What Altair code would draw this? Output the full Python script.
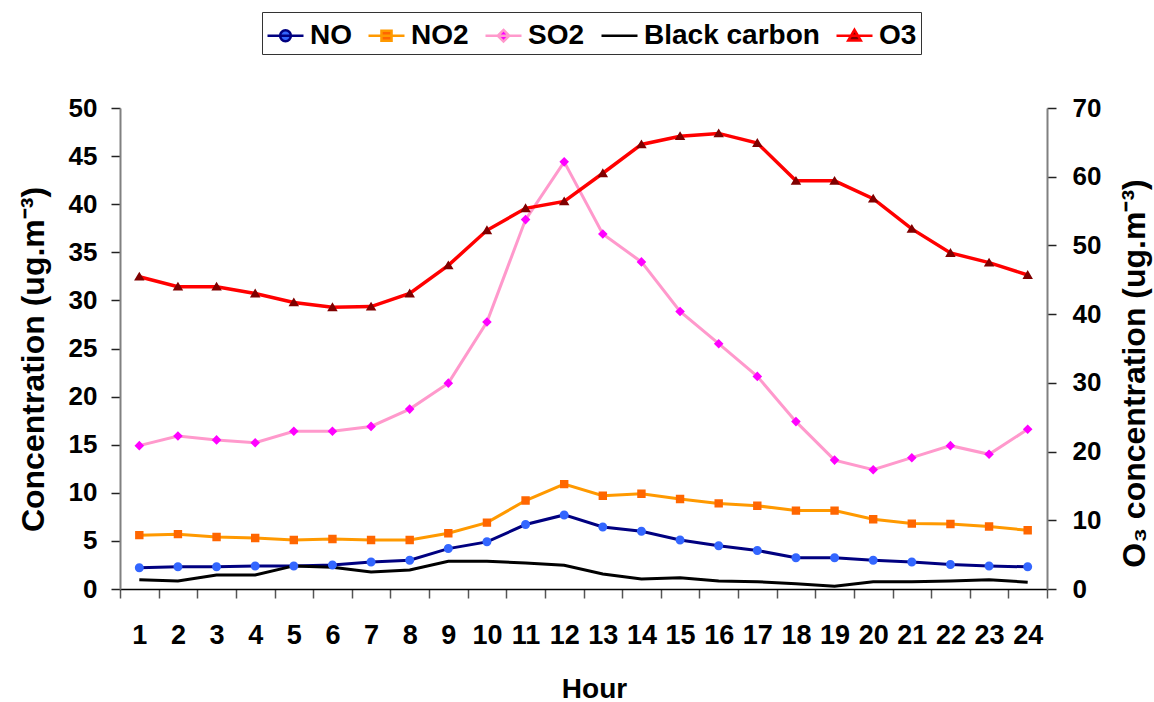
import altair as alt
import pandas as pd

# Hour of day (1..24)
hours = list(range(1, 25))

# Hourly mean concentrations (ug m-3)
no = [2.2, 2.3, 2.3, 2.4, 2.4, 2.5, 2.8, 3.0, 4.2, 4.9, 6.7, 7.7,
      6.45, 6.0, 5.1, 4.5, 4.0, 3.25, 3.25, 3.0, 2.8, 2.55, 2.4, 2.3]
no2 = [5.6, 5.7, 5.4, 5.3, 5.1, 5.2, 5.1, 5.1, 5.8, 6.9, 9.2, 10.9,
       9.7, 9.9, 9.35, 8.9, 8.65, 8.15, 8.15, 7.25, 6.8, 6.75, 6.5, 6.1]
so2 = [14.9, 15.9, 15.5, 15.2, 16.4, 16.4, 16.9, 18.7, 21.4, 27.75, 38.4, 44.4,
       36.9, 34.0, 28.85, 25.5, 22.1, 17.4, 13.4, 12.4, 13.65, 14.9, 14.0, 16.6]
black_carbon = [0.97, 0.83, 1.46, 1.46, 2.4, 2.25, 1.77, 1.98, 2.88, 2.88, 2.7, 2.46,
                1.56, 1.04, 1.18, 0.83, 0.76, 0.55, 0.28, 0.76, 0.76, 0.83, 0.97, 0.7]
o3 = [45.45, 44.0, 44.0, 43.0, 41.7, 41.0, 41.1, 43.0, 47.1, 52.2, 55.4, 56.4,
      60.5, 64.7, 65.9, 66.3, 64.9, 59.4, 59.4, 56.8, 52.4, 48.9, 47.5, 45.7]

series_names = ["NO", "NO2", "SO2", "Black carbon", "O3"]
series_values = [no, no2, so2, black_carbon, o3]

line_colors = ["#000080", "#FF9900", "#FF99CC", "#000000", "#FF0000"]
marker_colors = ["#3366FF", "#FF6600", "#FF00FF", "transparent", "#800000"]

# symbol paths in unit coordinates: a short line (visible only where stroked,
# i.e. in the legend) followed by the filled marker outline
seg = "M-1,0H1"
circle = seg + "M0.3,0A0.3,0.3,0,1,1,-0.3,0A0.3,0.3,0,1,1,0.3,0Z"
square = seg + "M-0.28,-0.28H0.28V0.28H-0.28Z"
diamond = seg + "M0,-0.32L0.32,0L0,0.32L-0.32,0Z"
triangle = seg + "M0,-0.33L0.35,0.26L-0.35,0.26Z"
marker_paths = [circle, square, diamond, seg, triangle]

left_ticks = [0, 5, 10, 15, 20, 25, 30, 35, 40, 45, 50]
right_ticks = [0, 10, 20, 30, 40, 50, 60, 70]

rows = []
for name, vals in zip(series_names, series_values):
    for h, v in zip(hours, vals):
        rows.append({"hour": h, "value": v, "series": name})
df = pd.DataFrame(rows)

FONT = "Liberation Sans"
W, H = 927, 481

x_enc = alt.X(
    "hour:O",
    scale=alt.Scale(type="band", paddingInner=0, paddingOuter=0),
    axis=alt.Axis(
        title="Hour", labelAngle=0, tickBand="extent",
        domainColor="#000000", domainWidth=1.5,
        tickColor="#555555", tickWidth=1.5, tickSize=9,
        labelFontSize=27, labelFontWeight="bold", labelColor="#000000",
        labelPadding=24, labelFont=FONT,
        titleFontSize=28, titleFontWeight="bold", titleFont=FONT,
        titleX=474, titleY=108, titleBaseline="alphabetic",
    ),
)

series_legend = alt.Legend(
    orient="none", legendX=142, legendY=-96, direction="horizontal",
    title=None, labelFontSize=28, labelFontWeight="bold", labelFont=FONT,
    labelColor="#000000", labelLimit=400,
    symbolSize=1296, symbolStrokeWidth=2.5, labelOffset=5, columnPadding=11,
    padding=4, strokeColor="#333333", fillColor="#FFFFFF",
)

stroke_enc = alt.Stroke(
    "series:N",
    scale=alt.Scale(domain=series_names, range=line_colors),
    legend=series_legend,
)
fill_enc = alt.Fill(
    "series:N",
    scale=alt.Scale(domain=series_names, range=marker_colors),
    legend=series_legend,
)
shape_enc = alt.Shape(
    "series:N",
    scale=alt.Scale(domain=series_names, range=marker_paths),
    legend=series_legend,
)

axis_y_style = dict(
    domainColor="#808080", domainWidth=2, tickColor="#222222", tickWidth=1.5,
    tickSize=9, labelFontSize=26, labelFontWeight="bold", labelColor="#000000",
    labelFont=FONT, titleFontSize=32, titleFontWeight="bold", titleFont=FONT,
    titleAngle=270, titleAlign="center", titleBaseline="alphabetic", grid=False,
)

y_left = alt.Y(
    "value:Q",
    scale=alt.Scale(domain=[0, 50], nice=False, zero=True),
    axis=alt.Axis(
        orient="left", values=left_ticks, title="Concentration (ug.m⁻³)",
        labelPadding=14, titleX=-77, titleY=251, **axis_y_style,
    ),
)
y_right = alt.Y(
    "value:Q",
    scale=alt.Scale(domain=[0, 70], nice=False, zero=True),
    axis=alt.Axis(
        orient="right", values=right_ticks, title="O₃ concentration (ug.m⁻³)",
        labelPadding=16, titleX=97, titleY=265, **axis_y_style,
    ),
)

base = alt.Chart(df)

primary = base.transform_filter(alt.datum.series != "O3")
secondary = base.transform_filter(alt.datum.series == "O3")

left_lines = primary.mark_line(strokeWidth=3).encode(x=x_enc, y=y_left, stroke=stroke_enc)
left_points = primary.mark_point(filled=True, size=900, opacity=1, strokeWidth=0).encode(
    x=x_enc, y=y_left, fill=fill_enc, shape=shape_enc
)
right_lines = secondary.mark_line(strokeWidth=3.5).encode(x=x_enc, y=y_right, stroke=stroke_enc)
right_points = secondary.mark_point(filled=True, size=900, opacity=1, strokeWidth=0).encode(
    x=x_enc, y=y_right, fill=fill_enc, shape=shape_enc
)

chart = (
    alt.layer(
        alt.layer(left_lines, left_points),
        alt.layer(right_lines, right_points),
    )
    .resolve_scale(y="independent")
    .properties(
        width=W, height=H,
        autosize=alt.AutoSizeParams(type="none"),
        padding={"left": 120, "top": 108, "right": 107, "bottom": 113},
        background="#FFFFFF",
    )
    .configure_view(stroke=None)
)

chart.save("out.html", embed_options={"renderer": "svg", "actions": False})
